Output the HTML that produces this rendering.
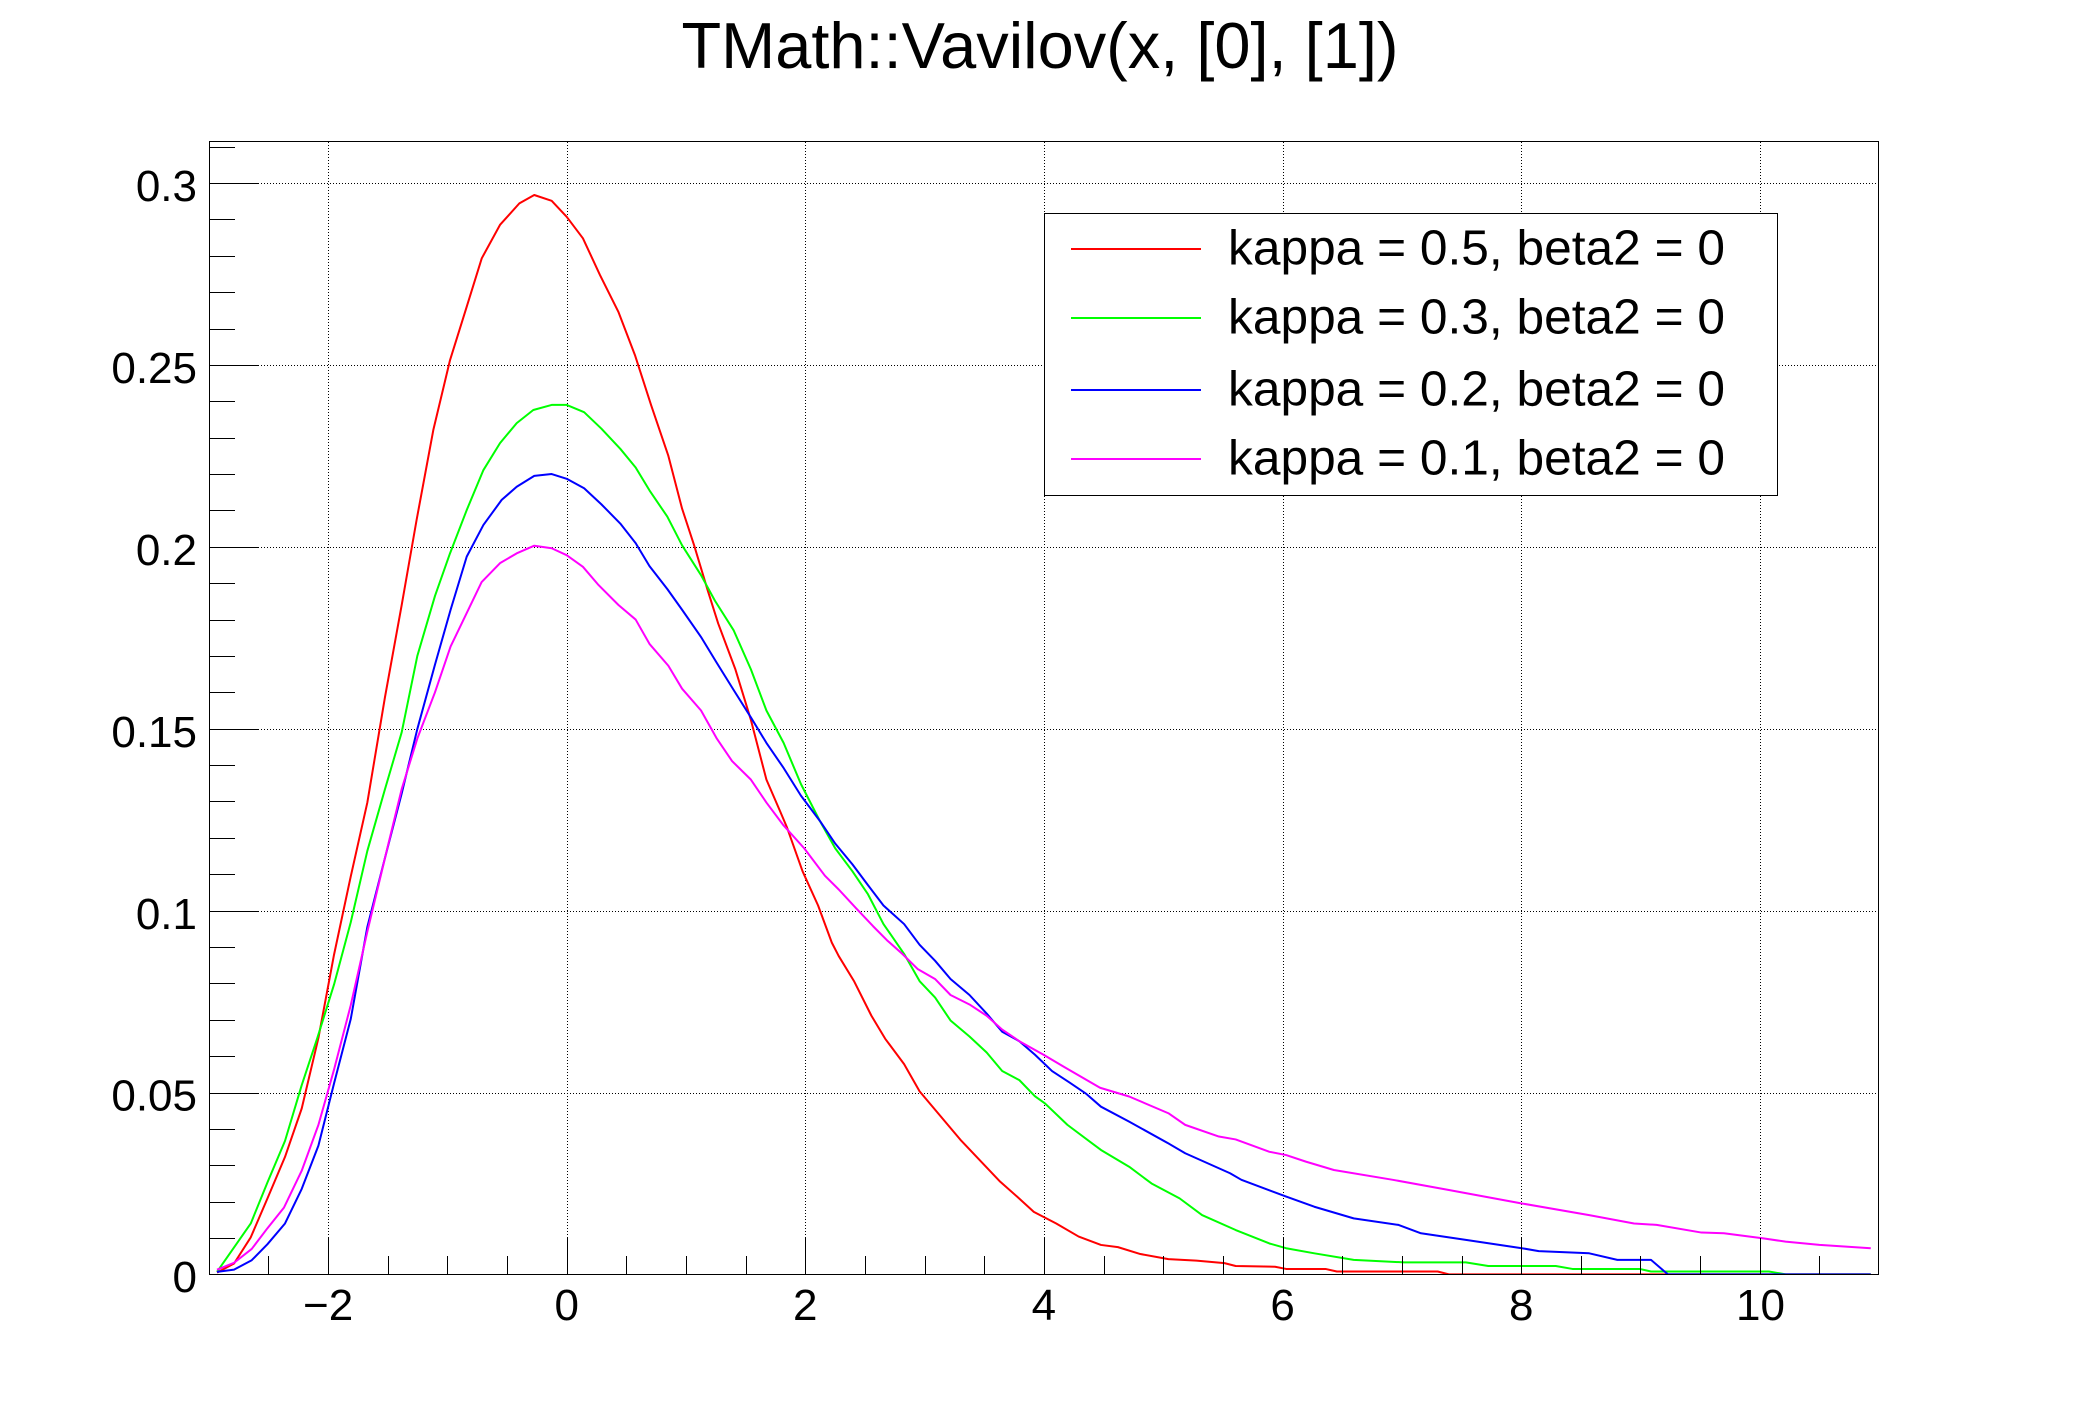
<!DOCTYPE html>
<html><head><meta charset="utf-8">
<style>
html,body{margin:0;padding:0;background:#fff;}
svg{display:block;}
text{font-family:"Liberation Sans",Arial,Helvetica,sans-serif;fill:#000;}
</style></head>
<body>
<svg id="c" width="2088" height="1416" viewBox="0 0 2088 1416" xmlns="http://www.w3.org/2000/svg">
<defs><clipPath id="clip"><rect x="209" y="141" width="1670" height="1134"/></clipPath></defs>
<rect width="2088" height="1416" fill="#fff"/>
<text x="1040" y="68" font-size="65" text-anchor="middle" textLength="717" lengthAdjust="spacingAndGlyphs">TMath::Vavilov(x, [0], [1])</text>
<g id="grid" stroke="#000" stroke-width="1" stroke-dasharray="1 2" fill="none"></g>
<g id="curves" clip-path="url(#clip)" fill="none" stroke-width="2" stroke-linejoin="round"></g>
<rect x="209.5" y="141.5" width="1669" height="1133" fill="none" stroke="#000" stroke-width="1"/>
<path id="ticks" stroke="#000" stroke-width="1" fill="none" d=""/>
<g font-size="44" text-anchor="end">
<text x="197" y="201">0.3</text>
<text x="197" y="383">0.25</text>
<text x="197" y="565">0.2</text>
<text x="197" y="747">0.15</text>
<text x="197" y="929">0.1</text>
<text x="197" y="1110.5">0.05</text>
<text x="197" y="1292">0</text>
</g>
<g font-size="44" text-anchor="middle">
<text x="328.1" y="1320">−2</text>
<text x="566.7" y="1320">0</text>
<text x="805.3" y="1320">2</text>
<text x="1043.9" y="1320">4</text>
<text x="1282.6" y="1320">6</text>
<text x="1521.2" y="1320">8</text>
<text x="1760.5" y="1320">10</text>
</g>
<rect x="1044.5" y="213.5" width="733" height="282" fill="#fff" stroke="#000" stroke-width="1"/>
<line x1="1071" y1="249" x2="1201" y2="249" stroke="#ff0000" stroke-width="2"/>
<line x1="1071" y1="318" x2="1201" y2="318" stroke="#00ff00" stroke-width="2"/>
<line x1="1071" y1="390" x2="1201" y2="390" stroke="#0000ff" stroke-width="2"/>
<line x1="1071" y1="459" x2="1201" y2="459" stroke="#ff00ff" stroke-width="2"/>
<g font-size="49">
<text x="1228" y="264.5" textLength="497" lengthAdjust="spacingAndGlyphs">kappa = 0.5, beta2 = 0</text>
<text x="1228" y="333.5" textLength="497" lengthAdjust="spacingAndGlyphs">kappa = 0.3, beta2 = 0</text>
<text x="1228" y="405.5" textLength="497" lengthAdjust="spacingAndGlyphs">kappa = 0.2, beta2 = 0</text>
<text x="1228" y="474.5" textLength="497" lengthAdjust="spacingAndGlyphs">kappa = 0.1, beta2 = 0</text>
</g>
</svg>
<script>
(function(){
var NS="http://www.w3.org/2000/svg";
function X(x){return 566.7+119.31*x;}
function Y(y){return 1274.4-3638*y;}
var grid=document.getElementById('grid');
var gd="";
for(var gx=-2;gx<=10;gx+=2){var px=Math.round(X(gx))+0.5;gd+="M"+px+" 1274V142";}
for(var gy=1;gy<=6;gy++){var py=Math.round(Y(gy*0.05))+0.5;gd+="M210 "+py+"H1878";}
var gp=document.createElementNS(NS,'path');gp.setAttribute('d',gd);grid.appendChild(gp);
var td="";
for(var k=1;k<=31;k++){var py=Math.round(Y(k*0.01))+0.5;var len=(k%5===0)?48:25;td+="M210 "+py+"H"+(210+len);}
for(var j=-5;j<=27;j++){var xv=j*0.5;var px=Math.round(X(xv))+0.5;var len=(j%4===0)?36:18;if(px<211||px>1877)continue;td+="M"+px+" 1274V"+(1274-len);}
document.getElementById('ticks').setAttribute('d',td);

var red=[-2.93,0.0005,-2.788,0.003,-2.648,0.0102,-2.508,0.0209,-2.361,0.0323,-2.221,0.0456,-2.081,0.065,-1.95,0.0879,-1.81,0.1094,-1.671,0.1297,-1.523,0.1587,-1.383,0.184,-1.258,0.2074,-1.118,0.2321,-0.978,0.2513,-0.838,0.266,-0.712,0.2793,-0.559,0.2885,-0.397,0.2944,-0.272,0.2967,-0.126,0.2951,0.0,0.2907,0.136,0.2848,0.279,0.2747,0.433,0.2646,0.572,0.2527,0.708,0.2389,0.852,0.225,0.967,0.2105,1.068,0.2004,1.184,0.1878,1.27,0.1789,1.414,0.1663,1.544,0.1524,1.674,0.136,1.79,0.1272,1.847,0.1228,1.977,0.1108,2.107,0.1014,2.222,0.0912,2.28,0.0875,2.41,0.0805,2.554,0.0711,2.669,0.0648,2.828,0.0578,2.958,0.0503,3.3,0.037,3.633,0.0255,3.774,0.0214,3.915,0.0172,4.103,0.014,4.291,0.0104,4.478,0.0081,4.62,0.0075,4.808,0.0056,5.043,0.0042,5.278,0.0038,5.513,0.0031,5.607,0.0023,5.937,0.0021,6.03,0.0015,6.36,0.0015,6.455,0.0008,7.3,0.0008,7.394,0,10.93,0];
var green=[-2.931,0.0007,-2.648,0.014,-2.508,0.0253,-2.361,0.0367,-2.221,0.052,-2.09,0.065,-1.95,0.0797,-1.81,0.0968,-1.671,0.1164,-1.523,0.1334,-1.383,0.149,-1.252,0.170,-1.104,0.1865,-0.978,0.1982,-0.838,0.2101,-0.698,0.2211,-0.559,0.2285,-0.419,0.234,-0.28,0.2376,-0.126,0.239,0.0,0.239,0.146,0.237,0.29,0.2325,0.45,0.2269,0.578,0.2218,0.694,0.2155,0.843,0.2083,0.967,0.2004,1.126,0.1922,1.242,0.1852,1.40,0.177,1.544,0.1663,1.674,0.155,1.818,0.1461,1.963,0.1348,2.121,0.1247,2.251,0.1171,2.395,0.1108,2.525,0.1045,2.655,0.0963,2.828,0.0881,2.958,0.0806,3.088,0.0761,3.217,0.0698,3.376,0.0654,3.52,0.061,3.65,0.0559,3.794,0.0534,3.924,0.049,4.009,0.047,4.197,0.0411,4.478,0.0342,4.714,0.0296,4.902,0.025,5.137,0.0209,5.325,0.0163,5.607,0.0122,5.89,0.0085,6.03,0.0072,6.266,0.0058,6.596,0.004,7.019,0.0033,7.536,0.0033,7.724,0.0023,8.29,0.0023,8.43,0.0015,8.994,0.0015,9.088,0.0008,10.076,0.0008,10.217,0,10.93,0];
var blue=[-2.931,0.0007,-2.788,0.0013,-2.64,0.0039,-2.508,0.0083,-2.361,0.014,-2.221,0.0235,-2.081,0.0354,-1.95,0.0525,-1.81,0.0702,-1.671,0.0955,-1.523,0.1145,-1.383,0.1322,-1.252,0.1499,-1.104,0.1676,-0.973,0.1827,-0.838,0.1973,-0.698,0.206,-0.545,0.2129,-0.419,0.2165,-0.272,0.2195,-0.126,0.22,0.0,0.2187,0.146,0.2161,0.29,0.2117,0.449,0.2064,0.578,0.201,0.694,0.1947,0.843,0.1884,0.967,0.1827,1.126,0.1752,1.256,0.1682,1.40,0.1606,1.544,0.1531,1.674,0.1461,1.818,0.1392,1.963,0.1316,2.121,0.1247,2.251,0.1184,2.395,0.1127,2.525,0.107,2.655,0.1014,2.828,0.0963,2.958,0.0906,3.088,0.0862,3.217,0.0812,3.376,0.0768,3.52,0.0717,3.65,0.0667,3.794,0.0641,3.924,0.0604,4.068,0.0559,4.212,0.0528,4.356,0.0496,4.478,0.0461,4.714,0.042,5.043,0.036,5.184,0.0333,5.56,0.0278,5.655,0.026,6.03,0.0214,6.266,0.0186,6.596,0.0154,6.972,0.0136,7.16,0.0113,7.536,0.0095,8.006,0.0072,8.147,0.0064,8.57,0.0058,8.806,0.004,9.088,0.004,9.23,0,10.93,0];
var mag=[-2.931,0.0013,-2.788,0.0032,-2.64,0.007,-2.508,0.0127,-2.369,0.0184,-2.221,0.0285,-2.081,0.0411,-1.95,0.0563,-1.81,0.074,-1.671,0.0942,-1.523,0.1145,-1.383,0.1334,-1.252,0.1473,-1.104,0.16,-0.973,0.1726,-0.713,0.1903,-0.559,0.1955,-0.419,0.1982,-0.272,0.2003,-0.126,0.1996,0.0,0.1977,0.136,0.1945,0.261,0.1897,0.434,0.184,0.578,0.18,0.694,0.1733,0.852,0.1673,0.967,0.161,1.126,0.155,1.256,0.1474,1.386,0.1411,1.544,0.136,1.674,0.1297,1.818,0.1234,1.991,0.1171,2.164,0.1096,2.28,0.1058,2.424,0.1007,2.568,0.0957,2.683,0.0919,2.813,0.0881,2.943,0.0839,3.087,0.0812,3.217,0.0768,3.376,0.0742,3.52,0.0711,3.65,0.0673,3.794,0.0641,3.995,0.0604,4.17,0.057,4.47,0.0513,4.714,0.0489,5.043,0.0443,5.184,0.0411,5.466,0.0379,5.607,0.0371,5.89,0.0337,6.03,0.0328,6.195,0.031,6.43,0.0287,6.924,0.026,7.394,0.0232,8.006,0.0195,8.57,0.0163,8.946,0.014,9.135,0.0136,9.511,0.0115,9.699,0.0113,10.03,0.0099,10.216,0.009,10.5,0.0081,10.93,0.0072];
function draw(d,color){
  var pts=[];
  for(var i=0;i<d.length;i+=2){pts.push(X(d[i]).toFixed(2)+","+Y(d[i+1]).toFixed(2));}
  var pl=document.createElementNS(NS,'polyline');
  pl.setAttribute('points',pts.join(' '));
  pl.setAttribute('stroke',color);
  document.getElementById('curves').appendChild(pl);
}
draw(red,'#ff0000');
draw(green,'#00ff00');
draw(blue,'#0000ff');
draw(mag,'#ff00ff');
})();
</script>
</body></html>
